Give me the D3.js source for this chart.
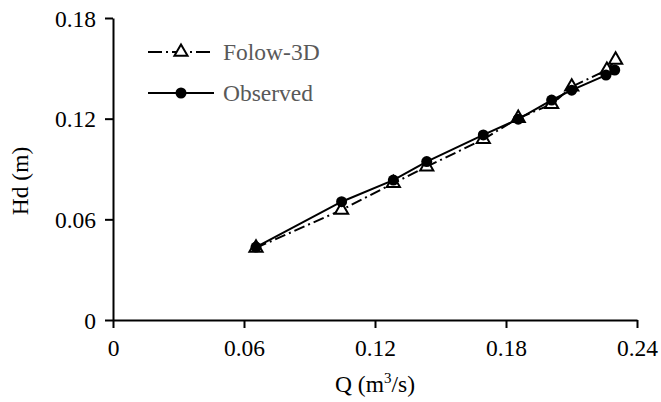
<!DOCTYPE html>
<html>
<head>
<meta charset="utf-8">
<script src="https://cdn.jsdelivr.net/npm/d3@7"></script>
<style>
  html, body { margin: 0; padding: 0; background: #fff; }
  svg { display: block; }
  text { font-family: "Liberation Serif", "Times New Roman", serif; }
</style>
</head>
<body>
<svg id="chart" width="661" height="402"></svg>
<script>
// Discharge Q (m^3/s) and water depth Hd (m)
const qFlow3D = [0.0655, 0.1047, 0.1284, 0.1437, 0.1696, 0.1856, 0.2009, 0.2101, 0.2262, 0.2302];
const hdFlow3D = [0.0430, 0.0656, 0.0815, 0.0914, 0.1077, 0.1203, 0.1286, 0.1390, 0.1490, 0.1550];
const qObserved = [0.0655, 0.1047, 0.1284, 0.1437, 0.1696, 0.1856, 0.2009, 0.2101, 0.2258, 0.2298];
const hdObserved = [0.0435, 0.0705, 0.0834, 0.0944, 0.1103, 0.1197, 0.1311, 0.1370, 0.1460, 0.1490];

const xTicks = [0, 0.06, 0.12, 0.18, 0.24];
const yTicks = [0, 0.06, 0.12, 0.18];
const seriesNames = ["Folow-3D", "Observed"];

const svg = d3.select("#chart");
const m = { left: 113, right: 637, top: 18, bottom: 320 };
const fontSize = "23.5px";

const x = d3.scaleLinear().domain([0, 0.24]).range([m.left, m.right]);
const y = d3.scaleLinear().domain([0, 0.18]).range([m.bottom, m.top]);

const fmt = d => d === 0 ? "0" : d3.format(".2f")(d);

// Axes
const xAxis = svg.append("g")
  .attr("transform", `translate(0,${m.bottom})`)
  .call(d3.axisBottom(x).tickValues(xTicks).tickFormat(fmt).tickSizeInner(8).tickSizeOuter(0).tickPadding(7));
const yAxis = svg.append("g")
  .attr("transform", `translate(${m.left},0)`)
  .call(d3.axisLeft(y).tickValues(yTicks).tickFormat(fmt).tickSizeInner(8).tickSizeOuter(0).tickPadding(9));

[xAxis, yAxis].forEach(g => {
  g.select(".domain").attr("stroke", "#000").attr("stroke-width", 2);
  g.selectAll(".tick line").attr("stroke", "#000").attr("stroke-width", 2);
  g.selectAll(".tick text")
    .attr("fill", "#000")
    .style("font-size", fontSize)
    .style("font-family", "'Liberation Serif', serif");
});
xAxis.selectAll(".tick text").attr("dy", "0.9em");
yAxis.selectAll(".tick text").attr("dy", "0.35em");

// Axis titles
const xTitle = svg.append("text")
  .attr("x", (m.left + m.right) / 2)
  .attr("y", 392)
  .attr("text-anchor", "middle")
  .style("font-size", fontSize)
  .attr("fill", "#000");
xTitle.append("tspan").text("Q (m");
xTitle.append("tspan").attr("dy", -9).style("font-size", "15px").text("3");
xTitle.append("tspan").attr("dy", 9).text("/s)");

svg.append("text")
  .attr("transform", `translate(28,${(m.top + m.bottom) / 2 + 12}) rotate(-90)`)
  .attr("text-anchor", "middle")
  .style("font-size", fontSize)
  .attr("fill", "#000")
  .text("Hd (m)");

// Series
const flowPts = qFlow3D.map((q, i) => [q, hdFlow3D[i]]);
const obsPts = qObserved.map((q, i) => [q, hdObserved[i]]);
const line = d3.line().x(d => x(d[0])).y(d => y(d[1]));
const tri = d3.symbol().type(d3.symbolTriangle).size(75);

svg.append("path")
  .datum(flowPts)
  .attr("d", line)
  .attr("fill", "none")
  .attr("stroke", "#000")
  .attr("stroke-width", 2)
  .attr("stroke-dasharray", "11,4,2,4");

svg.append("g").selectAll("path")
  .data(flowPts)
  .join("path")
  .attr("d", tri)
  .attr("transform", d => `translate(${x(d[0])},${y(d[1])})`)
  .attr("fill", "#fff")
  .attr("stroke", "#000")
  .attr("stroke-width", 2);

svg.append("path")
  .datum(obsPts)
  .attr("d", line)
  .attr("fill", "none")
  .attr("stroke", "#000")
  .attr("stroke-width", 2);

svg.append("g").selectAll("circle")
  .data(obsPts)
  .join("circle")
  .attr("cx", d => x(d[0]))
  .attr("cy", d => y(d[1]))
  .attr("r", 5.5)
  .attr("fill", "#000");

// Legend
const legend = svg.append("g");
const legY = [52, 93];
legend.append("line")
  .attr("x1", 148).attr("x2", 214).attr("y1", legY[0]).attr("y2", legY[0])
  .attr("stroke", "#000").attr("stroke-width", 2)
  .attr("stroke-dasharray", "14,4,2,4");
legend.append("path")
  .attr("d", tri)
  .attr("transform", `translate(181,${legY[0]})`)
  .attr("fill", "#fff").attr("stroke", "#000").attr("stroke-width", 2);
legend.append("line")
  .attr("x1", 148).attr("x2", 214).attr("y1", legY[1]).attr("y2", legY[1])
  .attr("stroke", "#000").attr("stroke-width", 2);
legend.append("circle")
  .attr("cx", 181).attr("cy", legY[1]).attr("r", 5.5).attr("fill", "#000");

seriesNames.forEach((name, i) => {
  legend.append("text")
    .attr("x", 223)
    .attr("y", legY[i])
    .attr("dy", "0.35em")
    .style("font-size", fontSize)
    .attr("fill", "#595959")
    .text(name);
});
</script>
</body>
</html>
